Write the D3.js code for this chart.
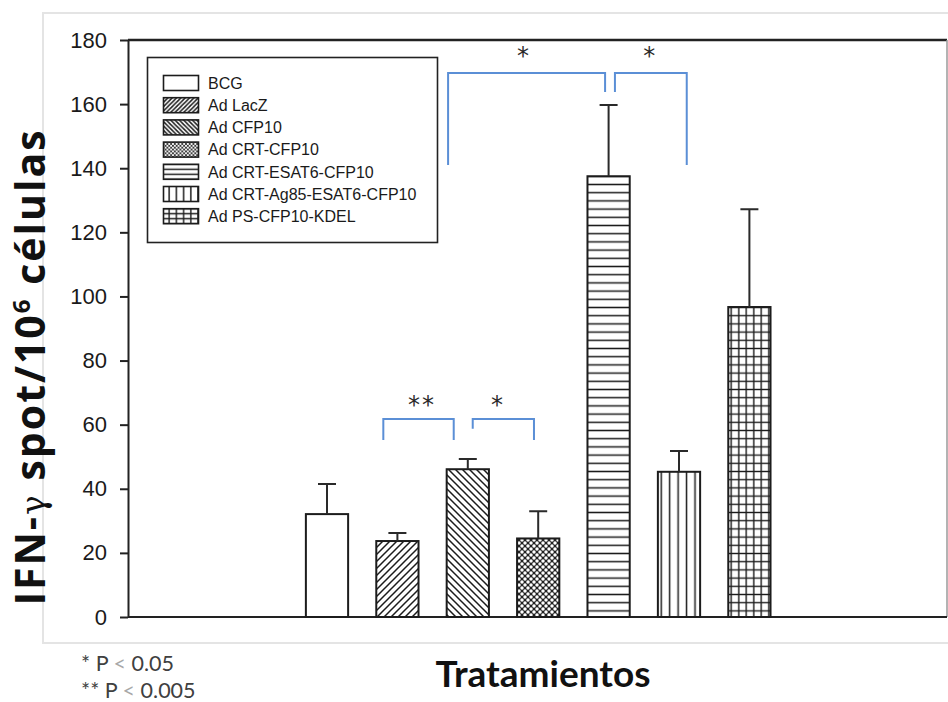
<!DOCTYPE html>
<html>
<head>
<meta charset="utf-8">
<script src="https://cdn.jsdelivr.net/npm/d3@7/dist/d3.min.js"></script>
<style>
  html, body { margin: 0; padding: 0; background: #fff; }
  svg { display: block; }
</style>
</head>
<body>
<svg id="chart" width="948" height="702"></svg>
<script>
// IFN-γ ELISPOT by treatment group
const categories = ["BCG", "Ad LacZ", "Ad CFP10", "Ad CRT-CFP10",
  "Ad CRT-ESAT6-CFP10", "Ad CRT-Ag85-ESAT6-CFP10", "Ad PS-CFP10-KDEL"];
const meanSpots = [32.1, 23.7, 46.1, 24.5, 137.5, 45.3, 96.7];
const errSpots  = [9.4, 2.5, 3.2, 8.5, 22.2, 6.5, 30.5];
const patterns  = ["none", "diagUp", "diagDown", "dots", "horiz", "vert", "grid"];
const yTicks    = [0, 20, 40, 60, 80, 100, 120, 140, 160, 180];

// significance brackets: positions in category-index units, heights in data units
const brackets = [
  { x1: 1.72, x2: 3.95, top: 169.7, y1: 141.0, y2: 163.8 },
  { x1: 4.09, x2: 5.11, top: 169.7, y1: 163.8, y2: 141.0 },
  { x1: 0.80, x2: 1.80, top: 61.8, y1: 55.2, y2: 55.2 },
  { x1: 2.07, x2: 2.94, top: 61.8, y1: 58.7, y2: 55.2 }
];
const sigLabels = [
  { x: 2.80, y: 177.6, text: "*" },
  { x: 4.59, y: 177.6, text: "*" },
  { x: 1.35, y: 68.8, text: "**" },
  { x: 2.43, y: 68.8, text: "*" }
];
const footnotes = [["* P ", "<", " 0.05"], ["** P ", "<", " 0.005"]];

const svg = d3.select("#chart");
const plot = { left: 128, right: 947, top: 40, bottom: 617 };
const ink = "#1c1c1c";
const blue = "#5b8fd6";

const y = d3.scaleLinear().domain([0, 180]).range([plot.bottom, plot.top]);
const x = d3.scaleBand().domain(categories).range([291.8, 784.6])
  .paddingInner(0.4).paddingOuter(0.2);
const cx = i => x(categories[0]) + x.bandwidth() / 2 + i * x.step();

// ---- hatch patterns (bars and denser legend versions)
const defs = svg.append("defs");
function makePatterns(suffix, k) {
  const sw = 1.5;
  let s = 7 * k;
  let p = defs.append("pattern").attr("id", "diagUp" + suffix)
    .attr("patternUnits", "userSpaceOnUse").attr("width", s).attr("height", s);
  p.append("rect").attr("width", s).attr("height", s).attr("fill", "#fff");
  p.append("path").attr("d", `M${-s / 2},${s / 2}L${s / 2},${-s / 2}M0,${s}L${s},0M${s / 2},${1.5 * s}L${1.5 * s},${s / 2}`)
    .attr("stroke", ink).attr("stroke-width", sw);

  p = defs.append("pattern").attr("id", "diagDown" + suffix)
    .attr("patternUnits", "userSpaceOnUse").attr("width", s).attr("height", s);
  p.append("rect").attr("width", s).attr("height", s).attr("fill", "#fff");
  p.append("path").attr("d", `M${-s / 2},${s / 2}L${s / 2},${1.5 * s}M0,0L${s},${s}M${s / 2},${-s / 2}L${1.5 * s},${s / 2}`)
    .attr("stroke", ink).attr("stroke-width", sw);

  const d = 6 * k;
  p = defs.append("pattern").attr("id", "dots" + suffix)
    .attr("patternUnits", "userSpaceOnUse").attr("width", d).attr("height", d);
  p.append("rect").attr("width", d).attr("height", d).attr("fill", "#222");
  [[0, 0], [d, 0], [0, d], [d, d], [d / 2, d / 2]].forEach(([a, b]) =>
    p.append("circle").attr("cx", a).attr("cy", b).attr("r", 1.75 * k).attr("fill", "#fff"));

  const h = suffix ? 5 : 8.2;
  p = defs.append("pattern").attr("id", "horiz" + suffix)
    .attr("patternUnits", "userSpaceOnUse").attr("width", 10).attr("height", h);
  p.append("rect").attr("width", 10).attr("height", h).attr("fill", "#fff");
  p.append("line").attr("x1", 0).attr("x2", 10).attr("y1", h / 2).attr("y2", h / 2)
    .attr("stroke", ink).attr("stroke-width", sw);

  const v = suffix ? 7.2 : 8.45;
  p = defs.append("pattern").attr("id", "vert" + suffix)
    .attr("patternUnits", "userSpaceOnUse").attr("width", v).attr("height", 10)
    .attr("x", suffix ? 0 : 657);
  p.append("rect").attr("width", v).attr("height", 10).attr("fill", "#fff");
  p.append("line").attr("y1", 0).attr("y2", 10).attr("x1", v / 2).attr("x2", v / 2)
    .attr("stroke", ink).attr("stroke-width", sw);

  const gx = suffix ? 7.2 : 7.5, gy = suffix ? 5 : 8.2;
  p = defs.append("pattern").attr("id", "grid" + suffix)
    .attr("patternUnits", "userSpaceOnUse").attr("width", gx).attr("height", gy);
  p.append("rect").attr("width", gx).attr("height", gy).attr("fill", "#fff");
  p.append("path").attr("d", `M${gx / 2},0V${gy}M0,${gy / 2}H${gx}`)
    .attr("stroke", ink).attr("stroke-width", 1.4);
}
makePatterns("", 1);
makePatterns("L", 0.62);
const fillFor = (pat, sfx) => pat === "none" ? "#fff" : `url(#${pat}${sfx})`;

// ---- light outer frame
const frame = svg.append("g").attr("stroke", "#e4e4e4").attr("stroke-width", 2).attr("fill", "none");
frame.append("path").attr("d", "M948,13H43V643H948");

// ---- plot frame
svg.append("path")
  .attr("d", `M${plot.left},${plot.top}H${plot.right}`)
  .attr("stroke", "#222").attr("stroke-width", 2.5);
svg.append("path")
  .attr("d", `M${plot.right},${plot.top}V${plot.bottom}`)
  .attr("stroke", "#9a9a9a").attr("stroke-width", 1.5);
svg.append("path")
  .attr("d", `M${plot.left},${plot.bottom}H${plot.right}`)
  .attr("stroke", "#222").attr("stroke-width", 2);

// ---- y axis
const yAxis = svg.append("g").attr("transform", `translate(${plot.left},0)`)
  .call(d3.axisLeft(y).tickValues(yTicks).tickSize(8).tickSizeOuter(0).tickPadding(13));
yAxis.select(".domain").attr("stroke", "#222").attr("stroke-width", 2);
yAxis.selectAll(".tick line").attr("stroke", "#222").attr("stroke-width", 2);
yAxis.selectAll(".tick text").attr("fill", "#1a1a1a")
  .style("font-family", "'Liberation Sans', Arial, sans-serif").style("font-size", "22px");

// ---- bars
const bars = svg.append("g");
bars.selectAll("rect").data(categories).join("rect")
  .attr("x", d => x(d))
  .attr("y", (d, i) => y(meanSpots[i]))
  .attr("width", x.bandwidth())
  .attr("height", (d, i) => y(0) - y(meanSpots[i]))
  .attr("fill", (d, i) => fillFor(patterns[i], ""))
  .attr("stroke", ink).attr("stroke-width", 2);

// ---- upper error bars
const err = svg.append("g").attr("stroke", "#2a2a2a").attr("stroke-width", 2).attr("fill", "none");
err.selectAll("path").data(categories).join("path")
  .attr("d", (d, i) => {
    const c = x(d) + x.bandwidth() / 2;
    const t = y(meanSpots[i] + errSpots[i]);
    return `M${c},${y(meanSpots[i])}V${t}M${c - 9},${t}H${c + 9}`;
  });

// ---- significance brackets
svg.append("g").attr("stroke", blue).attr("stroke-width", 2).attr("fill", "none")
  .selectAll("path").data(brackets).join("path")
  .attr("d", b => `M${cx(b.x1)},${y(b.y1)}V${y(b.top)}H${cx(b.x2)}V${y(b.y2)}`);
svg.append("g").selectAll("text").data(sigLabels).join("text")
  .attr("x", d => cx(d.x)).attr("y", d => y(d.y))
  .attr("text-anchor", "middle").attr("dominant-baseline", "central")
  .attr("dy", "0.35em")
  .style("font-family", "'DejaVu Sans', sans-serif").style("font-size", "24px")
  .style("letter-spacing", "2px")
  .attr("fill", "#2a2a2a")
  .text(d => d.text);

// ---- legend
const lg = svg.append("g");
lg.append("rect").attr("x", 147.5).attr("y", 57.5).attr("width", 290).attr("height", 185)
  .attr("fill", "#fff").attr("stroke", "#222").attr("stroke-width", 1.6);
const rows = lg.selectAll("g.row").data(categories).join("g")
  .attr("class", "row")
  .attr("transform", (d, i) => `translate(0,${83 + i * 22.2})`);
rows.append("rect").attr("x", 163.5).attr("y", -7.5).attr("width", 35).attr("height", 15)
  .attr("fill", (d, i) => fillFor(patterns[i], "L"))
  .attr("stroke", ink).attr("stroke-width", 1.6);
rows.append("text").attr("x", 208).attr("y", 0).attr("dy", "0.36em")
  .style("font-family", "'Liberation Sans', Arial, sans-serif").style("font-size", "16px")
  .attr("fill", "#1a1a1a")
  .text(d => d);

// ---- axis titles
const yTitle = svg.append("text")
  .attr("transform", "translate(45,367) rotate(-90)")
  .attr("text-anchor", "middle")
  .style("font-family", "'Open Sans', Lato, sans-serif").style("font-weight", "bold")
  .style("font-size", "41px").style("letter-spacing", "2px").attr("fill", "#111");
yTitle.append("tspan").text("IFN-");
yTitle.append("tspan").style("font-weight", "normal").style("font-family", "'DejaVu Serif', serif")
  .style("font-size", "33px").text("γ");
yTitle.append("tspan").text(" spot/10");
yTitle.append("tspan").attr("dy", -15).style("font-size", "24px").text("6");
yTitle.append("tspan").attr("dy", 15).text(" células");

svg.append("text").attr("x", 543).attr("y", 687).attr("text-anchor", "middle")
  .style("font-family", "Lato, 'Open Sans', sans-serif").style("font-weight", "bold")
  .style("font-size", "37px").attr("fill", "#111")
  .text("Tratamientos");

// ---- footnotes
svg.append("g").selectAll("text").data(footnotes).join("text")
  .attr("x", 81).attr("y", (d, i) => 671 + i * 27)
  .style("font-family", "Lato, 'Open Sans', sans-serif").style("font-size", "21.5px")
  .attr("fill", "#404040")
  .each(function (d) {
    const t = d3.select(this);
    t.append("tspan").text(d[0]);
    t.append("tspan").attr("fill", "#a8a8a8").text(d[1]);
    t.append("tspan").text(d[2]);
  });
</script>
</body>
</html>
